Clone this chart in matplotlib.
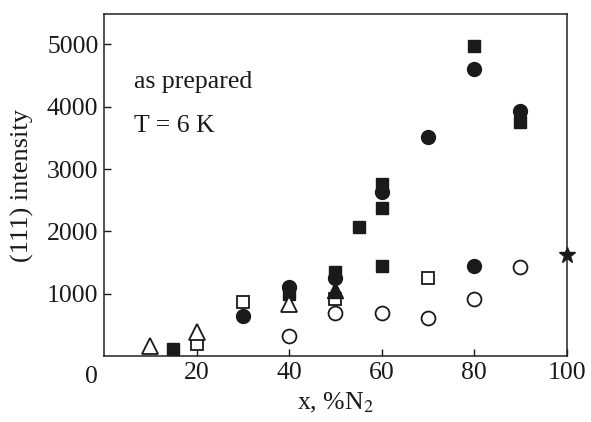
import matplotlib
matplotlib.use("Agg")
import matplotlib.pyplot as plt

plt.rcParams['font.family'] = ['Liberation Serif', 'DejaVu Serif']
plt.rcParams['mathtext.fontset'] = 'stix'

# filled squares
sq_f_x = [15, 40, 50, 55, 60, 60, 60, 80, 90]
sq_f_y = [120, 1000, 1350, 2070, 2760, 2380, 1440, 4970, 3760]
# filled circles
ci_f_x = [30, 40, 50, 60, 70, 80, 80, 90]
ci_f_y = [650, 1110, 1260, 2640, 3520, 4600, 1450, 3940]
# open squares
sq_o_x = [20, 30, 50, 70]
sq_o_y = [190, 870, 910, 1260]
# open circles
ci_o_x = [40, 50, 60, 70, 80, 90]
ci_o_y = [330, 690, 685, 605, 925, 1430]
# open triangles
tr_o_x = [10, 20, 40]
tr_o_y = [170, 380, 840]
# filled triangles
tr_f_x = [50]
tr_f_y = [1060]
# star
st_x = [100]
st_y = [1620]

fig = plt.figure(figsize=(5.91, 4.22), dpi=100)
ax = fig.add_axes([0.176, 0.156, 0.783, 0.811])

k = '#1a1a1a'
fs = 18.5
ax.plot(sq_f_x, sq_f_y, 's', ms=8.8, color=k, ls='none')
ax.plot(ci_f_x, ci_f_y, 'o', ms=10, color=k, ls='none')
ax.plot(sq_o_x, sq_o_y, 's', ms=8.8, mfc='white', mec=k, mew=1.3, ls='none')
ax.plot(ci_o_x, ci_o_y, 'o', ms=10, mfc='white', mec=k, mew=1.3, ls='none')
ax.plot(tr_f_x, tr_f_y, '^', ms=11, color=k, ls='none')
ax.plot(tr_o_x, tr_o_y, '^', ms=11, mfc='white', mec=k, mew=1.3, ls='none')
ax.plot(st_x, st_y, '*', ms=12, color=k, ls='none', clip_on=False, zorder=5)

ax.set_xlim(0, 100)
ax.set_ylim(0, 5490)
ax.set_xticks([20, 40, 60, 80, 100])
ax.set_yticks([1000, 2000, 3000, 4000, 5000])
ax.tick_params(direction='in', length=5, width=1, labelsize=fs, colors=k, pad=4)
for s in ax.spines.values():
    s.set_linewidth(1.1)
    s.set_color('#222222')

ax.text(-0.028, -0.03, '0', transform=ax.transAxes, fontsize=fs, ha='center', va='top', color=k)

ax.set_xlabel('x, %N$_2$', fontsize=fs, color=k, labelpad=5)
ax.set_ylabel('(111) intensity', fontsize=19, color=k, labelpad=9)

ax.text(0.064, 0.785, 'as prepared', transform=ax.transAxes, fontsize=fs, color=k)
ax.text(0.064, 0.655, 'T = 6 K', transform=ax.transAxes, fontsize=fs, color=k)

fig.savefig('out.png', dpi=100)
